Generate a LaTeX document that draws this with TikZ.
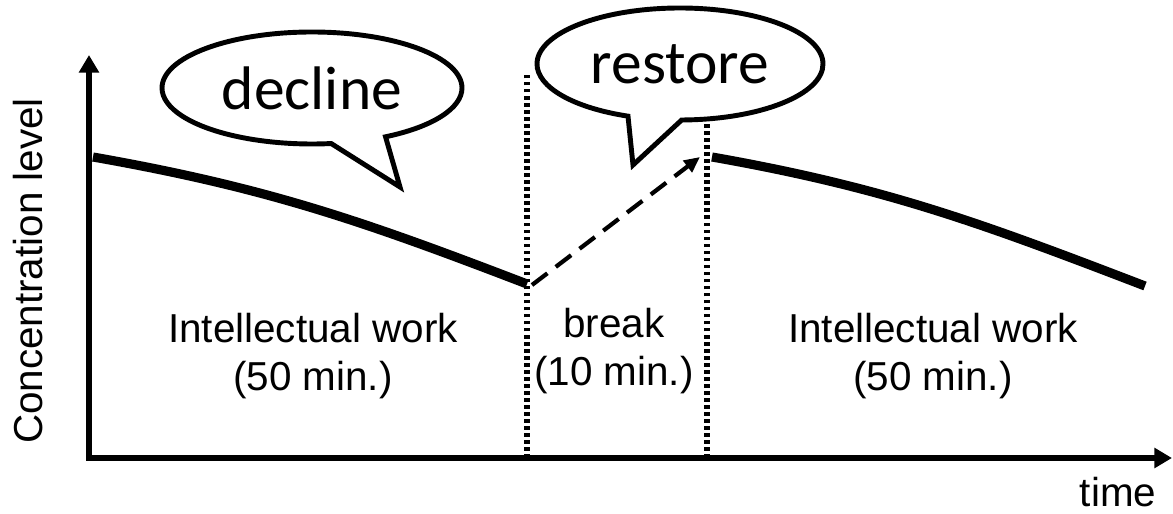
\documentclass[tikz,border=0pt]{standalone}
\usepackage{fontspec}
\setmainfont{Liberation Sans}
\newfontfamily\bubblefont{Carlito}
\usetikzlibrary{shapes.callouts, arrows.meta}

\begin{document}
\begin{tikzpicture}[label/.style={align=center,font=\fontsize{23}{27}\selectfont},
        bubble/.style={ellipse callout,draw,fill=white,line width=2.8pt,minimum height=2.24cm,callout pointer arc=22,font=\bubblefont\fontsize{35}{40}\selectfont},
        axis/.style={line width=3.4pt,line join=miter},
        level/.style={line width=5.2pt},
        divider/.style={line width=3pt,dash pattern=on 2pt off 2pt},
        rise/.style={line width=2.4pt,dash pattern=on 11pt off 6pt,-{Triangle[length=9pt,width=8pt]}}]
        \useasboundingbox (-1.78,-1.12) rectangle (21.68,9.16);
        \coordinate (O) at (0,0);
        \coordinate (ytop) at (0,8.06);
        \coordinate (xend) at (21.66,0);
        \coordinate (c1s) at (0.08,6.02);
        \coordinate (c1e) at (8.76,3.48);
        \coordinate (c2s) at (12.46,6.02);
        \coordinate (c2e) at (21.12,3.44);
        \coordinate (r0) at (8.86,3.46);
        \coordinate (r1) at (12.22,6.02);
        \draw[divider] (8.76,0) -- (8.76,7.7);
        \draw[divider] (12.36,0) -- (12.36,6.9);
        \draw[axis,{Triangle[length=10pt,width=11pt]}-{Triangle[length=10pt,width=11pt]}] (ytop) -- (O) -- (xend);
        \draw[level] (c1s) to[out=-10,in=159] (c1e);
        \draw[level] (c2s) to[out=-10,in=159] (c2e);
        \draw[rise] (r0) -- (r1);
        \node [label,rotate=90] (ylabel) at (-1.22,3.74) {Concentration level};
        \node [label] (xlabel) at (20.58,-0.68) {time};
        \node [label] (work1) at (4.48,2.04) {Intellectual work\\(50 min.)};
        \node [label] (brk) at (10.5,2.14) {break\\(10 min.)};
        \node [label] (work2) at (16.88,2.04) {Intellectual work\\(50 min.)};
        \node [bubble,minimum width=6cm,callout absolute pointer={(6.22,5.42)}] (decline) at (4.46,7.4) {decline};
        \node [bubble,minimum width=5.72cm,callout absolute pointer={(10.88,5.86)}] (restore) at (11.82,7.88) {restore};
    \end{tikzpicture}
\end{document}
